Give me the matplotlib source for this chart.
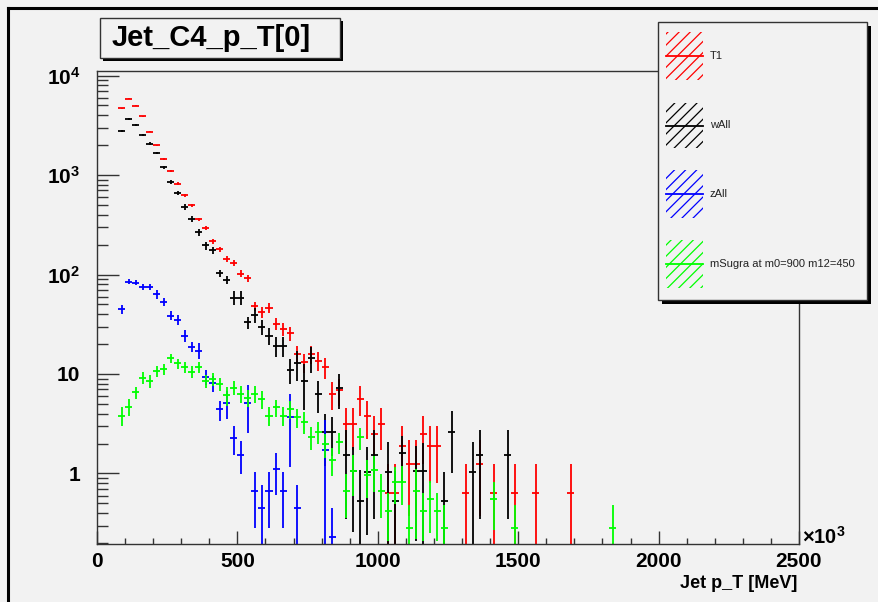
"""
Jet_C4_p_T[0] -- leading jet pT for T1, wAll, zAll and an mSugra point,
drawn in the look of a ROOT canvas (error-bar histograms on log y).
"""

import numpy as np
import matplotlib
matplotlib.use("Agg")
import matplotlib.pyplot as plt
from matplotlib.patches import Rectangle
from matplotlib.lines import Line2D
from matplotlib.ticker import LogLocator, MultipleLocator, NullFormatter

plt.rcParams["font.family"] = ["Liberation Sans", "DejaVu Sans"]
plt.rcParams["mathtext.fontset"] = "custom"
plt.rcParams["mathtext.rm"] = "Liberation Sans:bold"
plt.rcParams["mathtext.it"] = "Liberation Sans:bold"
plt.rcParams["mathtext.bf"] = "Liberation Sans:bold"
plt.rcParams["hatch.linewidth"] = 0.9

# ── Binning (x in units of 10^3 MeV) ─────────────────────────────────────────
PT_MIN = 75.0
BIN_W = 25.0

# ── T1 ───────────────────────────────────────────────────────────────────────
t1_bin = list(range(46)) + [49, 51, 53, 56, 59, 64]
t1_val = [4710, 5850, 4990, 3890, 2720, 1990, 1460, 1100, 818, 625,
          496, 359, 293, 216, 179, 144, 131, 102, 92, 48,
          42, 46, 32, 28.5, 25.6, 15.9, 13.1, 15.9, 13.6, 11.7,
          6.3, 6.9, 3.15, 3.15, 5.67, 3.78, 2.52, 3.15, 0.63, 0.63,
          1.89, 1.26, 1.26, 2.52, 1.89, 1.89,
          0.63, 1.26, 0.63, 0.63, 0.63, 0.63]
t1_err = [54, 61, 56, 50, 41, 35, 30, 26, 23, 20,
          18, 15, 14, 12, 11, 9.5, 9.1, 8.0, 7.6, 5.5,
          5.1, 5.4, 4.5, 4.2, 4.0, 3.2, 2.9, 3.2, 2.9, 2.7,
          2.0, 2.1, 1.41, 1.41, 1.89, 1.54, 1.26, 1.41, 0.63, 0.63,
          1.09, 0.89, 0.89, 1.26, 1.09, 1.09,
          0.63, 0.89, 0.63, 0.63, 0.63, 0.63]

# ── wAll ─────────────────────────────────────────────────────────────────────
w_bin = list(range(37)) + [38, 39, 40, 42, 43, 46, 47, 50, 51, 55]
w_val = [2790, 3650, 3180, 2510, 2070, 1660, 1200, 845, 664, 477,
         364, 267, 196, 176, 103, 89, 58.5, 58.5, 33, 39,
         29.5, 24.3, 19.3, 19.3, 11.0, 12.8, 8.5, 14.4, 6.3, 2.6,
         2.6, 7.2, 1.55, 1.06, 0.53, 1.04, 1.55,
         1.04, 0.53, 1.6, 1.06, 1.06, 0.53, 2.6, 1.04, 1.55, 1.55]
w_err = [60, 70, 65, 60, 55, 50, 45, 38, 34, 29,
         25, 22, 18, 14, 9, 8, 9, 9, 4.4, 6.6,
         5, 4.6, 4.4, 4.4, 3, 4.2, 4.2, 4.1, 2.2, 1.4,
         1.1, 2.8, 1.2, 0.8, 0.55, 0.8, 1.2,
         1.05, 0.53, 0.8, 0.85, 0.95, 0.5, 1.6, 1.05, 1.2, 1.2]

# ── zAll ─────────────────────────────────────────────────────────────────────
z_bin = list(range(26)) + [29, 30]
z_val = [44.7, 84.7, 82.7, 75.4, 75.4, 63.2, 53.3, 38.5, 34.9, 24.3,
         18.8, 17.2, 9.4, 8.1, 4.4, 5.15, 2.26, 1.55, 5.15, 0.66,
         0.45, 0.66, 1.11, 0.66, 3.72, 0.45, 1.72, 0.23]
z_err = [4.5, 5, 5, 5, 5, 6.5, 5, 4, 4, 3.3,
         2.2, 3.2, 1.6, 1.5, 1.0, 1.65, 0.72, 0.56, 2.6, 0.38,
         0.32, 0.38, 0.5, 0.38, 2.55, 0.32, 1.72, 0.22]

# ── mSugra at m0=900 m12=450 ─────────────────────────────────────────────────
s_bin = list(range(47)) + [53, 56, 70]
s_val = [3.81, 4.69, 6.55, 9.18, 8.5, 10.7, 11.1, 14.4, 12.8, 11.8,
         10.5, 11.8, 8.5, 8.9, 7.9, 6.1, 7.3, 6.3, 5.8, 6.3,
         5.6, 3.81, 4.63, 3.81, 4.45, 3.67, 3.32, 2.34, 2.63, 1.97,
         1.37, 2.07, 0.67, 1.06, 2.31, 0.97, 1.08, 0.67, 0.42, 0.83,
         0.83, 0.28, 0.67, 0.42, 0.55, 0.42, 0.28,
         0.55, 0.28, 0.28]
s_err = [0.8, 0.9, 0.9, 1.25, 1.2, 1.4, 1.4, 1.6, 1.5, 1.5,
         1.4, 1.5, 1.3, 1.3, 1.2, 1.3, 1.2, 1.2, 1.1, 1.2,
         1.1, 0.8, 0.9, 0.8, 0.9, 0.8, 0.8, 0.6, 0.65, 0.55,
         0.43, 0.5, 0.31, 0.47, 0.58, 0.4, 0.43, 0.31, 0.21, 0.34,
         0.35, 0.2, 0.45, 0.21, 0.3, 0.21, 0.2,
         0.28, 0.2, 0.2]

series = [
    ("T1", t1_bin, t1_val, t1_err, "#ff0000"),
    ("wAll", w_bin, w_val, w_err, "#000000"),
    ("zAll", z_bin, z_val, z_err, "#0000ff"),
    ("mSugra at m0=900 m12=450", s_bin, s_val, s_err, "#00ff00"),
]

# ── Canvas geometry (pixels of the 879x602 canvas) ──────────────────────────
W, H = 879, 602
BG = "#f2f2f2"
FRAME = "#333333"


def fx(x):
    return x / W


def fy(y):
    return 1 - y / H


def box(x0, y0, x1, y1, **kw):
    return Rectangle((fx(x0), fy(y1)), (x1 - x0) / W, (y1 - y0) / H,
                     transform=fig.transFigure, **kw)


fig = plt.figure(figsize=(W / 100, H / 100), dpi=100, facecolor=BG)

ax = fig.add_axes([fx(97), fy(544), (799 - 97) / W, (544 - 71) / H])
ax.set_facecolor(BG)
ax.set_zorder(0)

for name, bins, val, err, color in series:
    x = PT_MIN + BIN_W * (np.asarray(bins) + 0.5)
    v = np.asarray(val, dtype=float)
    e = np.asarray(err, dtype=float)
    lo = np.minimum(e, v * 0.999)
    ax.errorbar(x, v, xerr=BIN_W / 2, yerr=[lo, e], fmt="none",
                ecolor=color, elinewidth=1.3, capsize=0)

ax.set_yscale("log")
ax.set_xlim(0, 2500)
ax.set_ylim(0.1956, 11100)

for s in ax.spines.values():
    s.set_color(FRAME)
    s.set_linewidth(1.0)

ax.xaxis.set_major_locator(MultipleLocator(500))
ax.xaxis.set_minor_locator(MultipleLocator(100))
ax.set_yticks([1, 10, 100, 1000, 10000])
ax.set_yticklabels(["1", "10", "$10^{2}$", "$10^{3}$", "$10^{4}$"])
ax.yaxis.set_minor_locator(LogLocator(base=10, subs=np.arange(2, 10)))
ax.yaxis.set_minor_formatter(NullFormatter())

ax.tick_params(axis="x", which="major", direction="in", length=9.4, width=1,
               color=FRAME, pad=6, labelsize=15)
ax.tick_params(axis="x", which="minor", direction="in", length=4.3, width=1,
               color=FRAME)
ax.tick_params(axis="y", which="major", direction="in", length=15.8, width=1,
               color=FRAME, pad=12, labelsize=15)
ax.tick_params(axis="y", which="minor", direction="in", length=7.9, width=1,
               color=FRAME)
for lab in ax.get_xticklabels() + ax.get_yticklabels():
    lab.set_fontweight("bold")

# axis title and exponent
fig.text(fx(797), fy(583), "Jet p_T [MeV]", ha="right", va="center",
         fontsize=13, fontweight="bold")
fig.text(fx(802), fy(544), "$×10^{3}$", ha="left", va="baseline",
         fontsize=14.5)

# ── Title box ────────────────────────────────────────────────────────────────
fig.add_artist(box(103, 21, 343, 61, facecolor="black", edgecolor="none",
                   zorder=2))
fig.add_artist(box(100, 18, 340, 58, facecolor=BG, edgecolor=FRAME,
                   linewidth=1, zorder=3))
fig.text(fx(112), fy(38), "Jet_C4_p_T[0]", ha="left", va="center",
         fontsize=21, fontweight="bold", zorder=4)

# ── Legend ───────────────────────────────────────────────────────────────────
fig.add_artist(box(662, 26, 871, 304, facecolor="black", edgecolor="none",
                   zorder=2))
fig.add_artist(box(658, 22, 867, 300, facecolor=BG, edgecolor=FRAME,
                   linewidth=1, zorder=3))
entry_rows = [(32, 80), (103, 148), (170, 218), (240, 288)]
for (name, _, _, _, color), (top, bot) in zip(series, entry_rows):
    fig.add_artist(box(666, top, 703, bot, facecolor="none", edgecolor=color,
                       hatch="///", linewidth=0, zorder=4))
    mid = (top + bot) / 2
    fig.add_artist(Line2D([fx(666), fx(703)], [fy(mid), fy(mid)],
                          transform=fig.transFigure, color=color, lw=1.3,
                          zorder=5))
    fig.text(fx(710), fy(mid), name, ha="left", va="center", fontsize=8,
             color="#222222", zorder=5)

# ── Canvas border (top and left edges) ───────────────────────────────────────
fig.add_artist(Line2D([fx(8), 1], [fy(8), fy(8)], transform=fig.transFigure,
                      color="black", lw=2.2, zorder=6))
fig.add_artist(Line2D([fx(8), fx(8)], [fy(8), 0], transform=fig.transFigure,
                      color="black", lw=2.2, zorder=6))

fig.savefig("out.png", dpi=100, facecolor=BG)
